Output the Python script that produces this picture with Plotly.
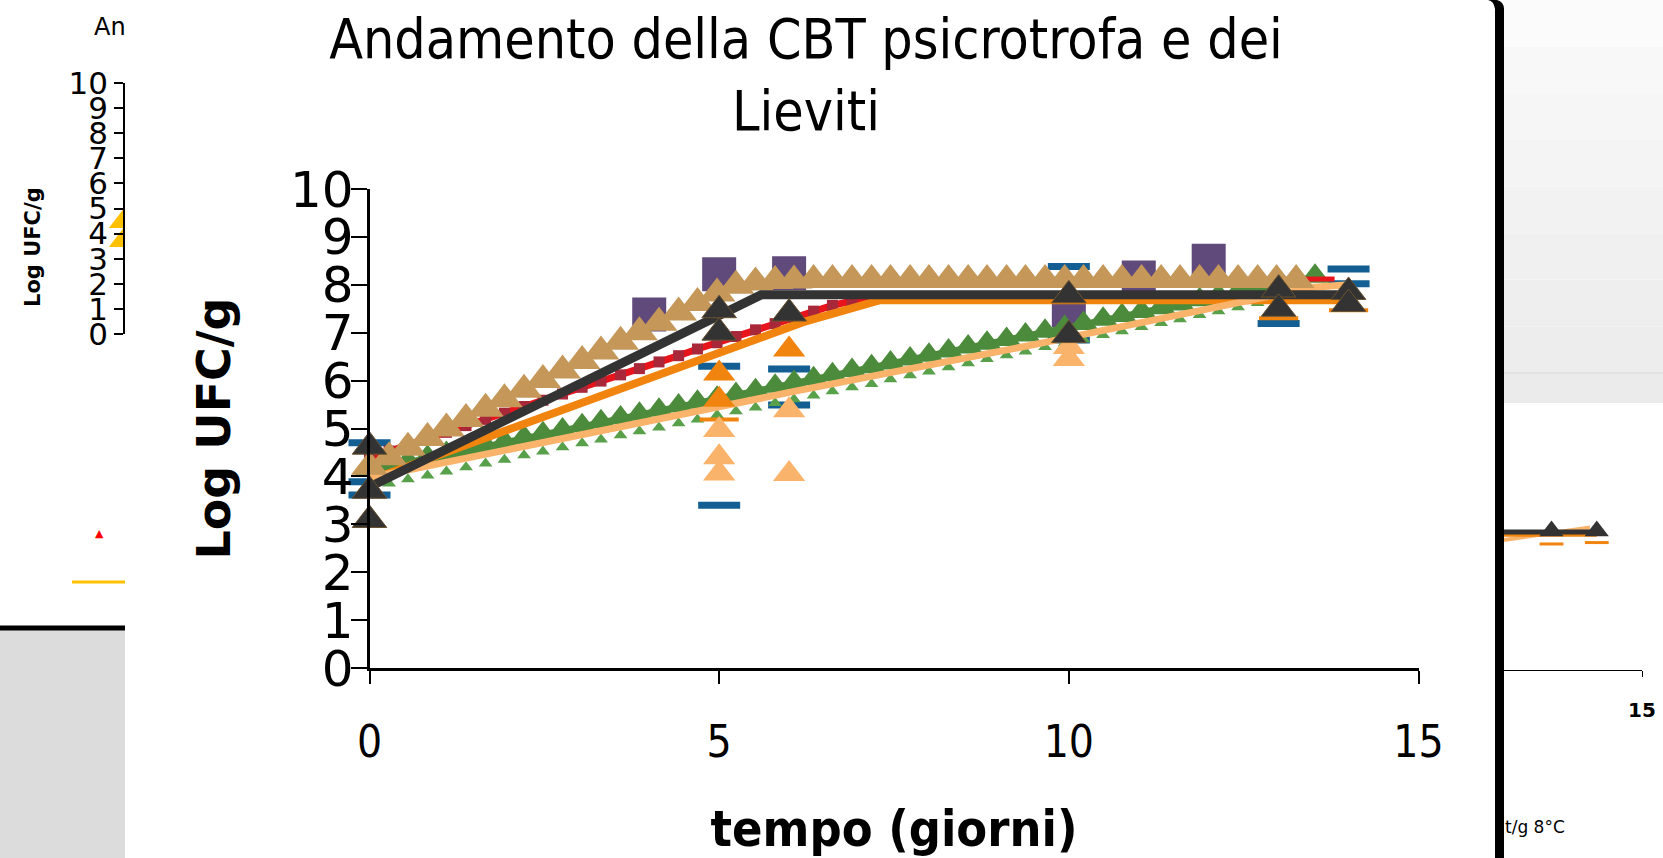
import plotly.graph_objects as go

W, H = 1663, 858

# ---------------- main chart data ----------------
model_days = [0.00, 0.28, 0.55, 0.83, 1.10, 1.38, 1.66, 1.93, 2.21, 2.48, 2.76, 3.04, 3.31,
              3.59, 3.86, 4.14, 4.42, 4.69, 4.97, 5.24, 5.52, 5.80, 6.07, 6.35, 6.62, 6.90,
              7.18, 7.45, 7.73, 8.00, 8.28, 8.56, 8.83, 9.11, 9.38, 9.66, 9.94, 10.21, 10.49,
              10.76, 11.04, 11.32, 11.59, 11.87, 12.14, 12.42, 12.70, 12.97, 13.25, 13.52]

tan_model = [4.20, 4.40, 4.60, 4.80, 5.00, 5.20, 5.41, 5.61, 5.81, 6.01, 6.21, 6.41, 6.61,
             6.81, 7.01, 7.21, 7.42, 7.62, 7.82, 7.98, 8.05, 8.08, 8.09, 8.10, 8.10, 8.10,
             8.10, 8.10, 8.10, 8.10, 8.10, 8.10, 8.10, 8.10, 8.10, 8.10, 8.10, 8.10, 8.10,
             8.10, 8.10, 8.10, 8.10, 8.10, 8.10, 8.10, 8.10, 8.10, 8.10]

red_model = [4.39, 4.53, 4.66, 4.79, 4.92, 5.06, 5.19, 5.32, 5.46, 5.59, 5.72, 5.86, 5.99,
             6.12, 6.25, 6.39, 6.52, 6.66, 6.79, 6.92, 7.06, 7.19, 7.32, 7.45, 7.57, 7.66,
             7.70, 7.72]

green_model = [4.15, 4.23, 4.31, 4.40, 4.48, 4.56, 4.64, 4.72, 4.81, 4.89, 4.97, 5.06, 5.14,
               5.22, 5.30, 5.38, 5.47, 5.55, 5.63, 5.71, 5.79, 5.88, 5.96, 6.04, 6.12, 6.21,
               6.29, 6.37, 6.45, 6.53, 6.62, 6.70, 6.78, 6.86, 6.95, 7.03, 7.11, 7.19, 7.28,
               7.36, 7.44, 7.52, 7.60, 7.69, 7.77, 7.85, 7.93, 8.02, 8.10, 8.18]

green_small_model = [3.77, 3.85, 3.94, 4.02, 4.10, 4.19, 4.27, 4.35, 4.44, 4.52, 4.61, 4.69,
                     4.77, 4.86, 4.94, 5.02, 5.11, 5.19, 5.28, 5.36, 5.44, 5.53, 5.61, 5.69,
                     5.78, 5.86, 5.93, 6.03, 6.11, 6.19, 6.28, 6.36, 6.45, 6.53, 6.61, 6.70,
                     6.78, 6.86, 6.95, 7.03, 7.12, 7.20, 7.28, 7.37, 7.45, 7.53, 7.62, 7.70, 7.78]

fit_black_x = [0, 5.0, 5.6, 14]
fit_black_y = [3.78, 7.40, 7.79, 7.79]
fit_orange_x = [0, 6.2, 7.3, 14]
fit_orange_y = [3.92, 7.22, 7.68, 7.68]
fit_lightorange_x = [0, 6.16, 9.5, 12.8, 13.5, 14]
fit_lightorange_y = [3.97, 5.80, 6.75, 7.72, 7.95, 8.00]

blue_x = [0, 0, 0, 5, 5, 6, 6, 10, 10, 13, 14, 14]
blue_y = [4.70, 3.89, 3.61, 6.30, 3.40, 6.24, 5.49, 8.38, 6.85, 7.19, 8.33, 8.02]

purple_x = [4, 5, 6, 10, 11, 12]
purple_y = [7.38, 8.22, 8.24, 7.47, 8.15, 8.50]

orange_tri_x = [5, 5, 6]
orange_tri_y = [6.15, 5.60, 6.65]
orange_dash_x = [5, 13, 14]
orange_dash_y = [5.19, 7.30, 7.47]

lightorange_tri_x = [5, 5, 5, 6, 6, 10, 10]
lightorange_tri_y = [4.97, 4.40, 4.06, 5.38, 4.05, 6.70, 6.45]

black_tri_x = [0, 0, 0, 5, 5, 6, 10, 10, 13, 13, 14, 14]
black_tri_y = [4.62, 3.70, 3.09, 7.47, 7.00, 7.40, 7.78, 6.95, 7.90, 7.50, 7.85, 7.60]

x_ticks = [0, 5, 10, 15]
y_ticks = list(range(0, 11))

# ---------------- left fragment data ----------------
left_tri_x = [0, 0]
left_tri_y = [4.50, 3.75]

# ---------------- right fragment data ----------------
r_black_x = [11.95, 14]
r_black_y = [7.80, 7.80]
r_orange_x = [11.95, 14]
r_orange_y = [7.62, 7.62]
r_lightorange_x = [11.95, 13.85]
r_lightorange_y = [7.35, 8.05]
r_tri_x = [13, 14]
r_tri_y = [7.85, 7.85]
r_dash_x = [13, 14]
r_dash_y = [7.12, 7.20]

COND = "DejaVu Sans Condensed, Liberation Sans Narrow, DejaVu Sans"
SANS = "DejaVu Sans"

TAN = "#c59758"
RED = "#e8141c"
DRED = "#a8283a"
GREEN = "#4b8b3b"
GREEN2 = "#58a04a"
ORANGE = "#f0840f"
LORANGE = "#f9b36b"
BLACK = "#333333"
PURPLE = "#604a7b"
BLUE = "#135e92"

fig = go.Figure()

n_tan = len(tan_model)
n_red = len(red_model)
n_green = len(green_model)
n_gs = len(green_small_model)


def sc(**kw):
    kw.setdefault("showlegend", False)
    kw.setdefault("cliponaxis", False)
    return go.Scatter(**kw)


# back -> front
fig.add_trace(sc(x=blue_x, y=blue_y, mode="markers",
                 marker=dict(symbol="line-ew", size=30, line=dict(color=BLUE, width=7))))
fig.add_trace(sc(x=purple_x, y=purple_y, mode="markers",
                 marker=dict(symbol="square", size=34, color=PURPLE)))
fig.add_trace(sc(x=model_days[:n_red], y=red_model, mode="lines+markers",
                 line=dict(color=RED, width=7),
                 marker=dict(symbol="square", size=11, color=DRED)))
fig.add_trace(sc(x=model_days[:n_green], y=green_model, mode="lines+markers",
                 line=dict(color=GREEN, width=5),
                 marker=dict(symbol="triangle-up", size=26, color=GREEN)))
fig.add_trace(sc(x=model_days[:n_gs], y=green_small_model, mode="markers",
                 marker=dict(symbol="triangle-up", size=12, color=GREEN2)))
fig.add_trace(sc(x=fit_orange_x, y=fit_orange_y, mode="lines",
                 line=dict(color=ORANGE, width=8)))
fig.add_trace(sc(x=fit_lightorange_x, y=fit_lightorange_y, mode="lines",
                 line=dict(color=LORANGE, width=7)))
fig.add_trace(sc(x=orange_dash_x, y=orange_dash_y, mode="markers",
                 marker=dict(symbol="line-ew", size=28, line=dict(color=ORANGE, width=4))))
fig.add_trace(sc(x=lightorange_tri_x, y=lightorange_tri_y, mode="markers",
                 marker=dict(symbol="triangle-up", size=28, color=LORANGE)))
fig.add_trace(sc(x=orange_tri_x, y=orange_tri_y, mode="markers",
                 marker=dict(symbol="triangle-up", size=28, color=ORANGE)))
fig.add_trace(sc(x=model_days[:n_tan] + [13.80], y=tan_model + [8.12], mode="lines",
                 line=dict(color=RED, width=5)))
fig.add_trace(sc(x=model_days[:n_tan], y=tan_model, mode="markers",
                 marker=dict(symbol="triangle-up", size=32, color=TAN)))
fig.add_trace(sc(x=fit_black_x, y=fit_black_y, mode="lines",
                 line=dict(color=BLACK, width=9)))
fig.add_trace(sc(x=black_tri_x, y=black_tri_y, mode="markers",
                 marker=dict(symbol="triangle-up", size=30, color=BLACK,
                             line=dict(color="#6b5230", width=1))))

# left fragment (clipped at its right edge)
fig.add_trace(go.Scatter(x=left_tri_x, y=left_tri_y, mode="markers", xaxis="x2", yaxis="y2",
                         marker=dict(symbol="triangle-up", size=28, color="#ffc000"),
                         showlegend=False))

# right fragment
fig.add_trace(go.Scatter(x=r_lightorange_x, y=r_lightorange_y, mode="lines", xaxis="x3", yaxis="y3",
                         line=dict(color=LORANGE, width=4), showlegend=False))
fig.add_trace(go.Scatter(x=r_orange_x, y=r_orange_y, mode="lines", xaxis="x3", yaxis="y3",
                         line=dict(color=ORANGE, width=3), showlegend=False))
fig.add_trace(go.Scatter(x=r_dash_x, y=r_dash_y, mode="markers", xaxis="x3", yaxis="y3",
                         marker=dict(symbol="line-ew", size=17, line=dict(color=ORANGE, width=3)),
                         showlegend=False))
fig.add_trace(go.Scatter(x=r_black_x, y=r_black_y, mode="lines", xaxis="x3", yaxis="y3",
                         line=dict(color=BLACK, width=5), showlegend=False))
fig.add_trace(go.Scatter(x=r_tri_x, y=r_tri_y, mode="markers", xaxis="x3", yaxis="y3",
                         marker=dict(symbol="triangle-up", size=21, color=BLACK),
                         showlegend=False))


def fx(px):
    return px / W


def fy(py):
    return 1 - py / H


shapes = [
    # left fragment background pieces
    dict(type="rect", xref="paper", yref="paper", x0=0, x1=fx(125), y0=0, y1=fy(630),
         fillcolor="#dcdcdc", line=dict(width=0), layer="below"),
    dict(type="line", xref="paper", yref="paper", x0=0, x1=fx(125), y0=fy(628), y1=fy(628),
         line=dict(color="black", width=5), layer="below"),
    dict(type="line", xref="paper", yref="paper", x0=fx(72), x1=fx(125), y0=fy(582), y1=fy(582),
         line=dict(color="#ffc000", width=3), layer="below"),
]

# right fragment panel (vertical gradient approximated by bands)
panel_cols = ["#fbfbfb", "#f8f8f8", "#f6f6f6", "#f4f4f4", "#f2f2f2", "#f0f0f0", "#eeeeee", "#ededed"]
band_h = 373 / len(panel_cols)
for i, c in enumerate(panel_cols):
    shapes.append(dict(type="rect", xref="paper", yref="paper", x0=fx(1504), x1=1,
                       y0=fy((i + 1) * band_h), y1=fy(i * band_h),
                       fillcolor=c, line=dict(width=0), layer="below"))
shapes += [
    dict(type="rect", xref="paper", yref="paper", x0=fx(1504), x1=1, y0=fy(403), y1=fy(373),
         fillcolor="#ebebeb", line=dict(width=0), layer="below"),
    dict(type="line", xref="paper", yref="paper", x0=fx(1504), x1=1, y0=fy(373), y1=fy(373),
         line=dict(color="#d9d9d9", width=1), layer="below"),
    dict(type="rect", xref="paper", yref="paper", x0=fx(1495), x1=fx(1504), y0=0, y1=fy(8),
         fillcolor="black", line=dict(width=0), layer="above"),
    dict(type="path", xref="paper", yref="paper",
         path=f"M {fx(1495)},{fy(9)} Q {fx(1494)},{fy(1)} {fx(1488)},{fy(0)} L {fx(1497)},{fy(0)} Q {fx(1504)},{fy(2)} {fx(1504)},{fy(9)} Z",
         fillcolor="black", line=dict(width=0), layer="above"),
]

annotations = [
    dict(text="An", xref="paper", yref="paper", x=fx(92), y=fy(27), xanchor="left", yanchor="middle",
         showarrow=False, font=dict(family=SANS, size=24, color="black")),
    dict(text="<b>Log UFC/g</b>", xref="paper", yref="paper", x=fx(33), y=fy(247), textangle=-90,
         xanchor="center", yanchor="middle", showarrow=False,
         font=dict(family=SANS, size=21, color="black")),
    dict(text="▲", xref="paper", yref="paper", x=fx(99), y=fy(533), xanchor="center", yanchor="middle",
         showarrow=False, font=dict(family=SANS, size=11, color="red")),
    dict(text="t/g 8°C", xref="paper", yref="paper", x=fx(1503), y=fy(827), xanchor="left",
         yanchor="middle", showarrow=False, font=dict(family=SANS, size=17, color="black")),
]

fig.update_layout(
    template="none",
    width=W, height=H,
    margin=dict(l=0, r=0, t=0, b=0),
    paper_bgcolor="white",
    plot_bgcolor="rgba(0,0,0,0)",
    showlegend=False,
    font=dict(family=SANS, color="black"),
    title=dict(text="Andamento della CBT psicrotrofa e dei<br>Lieviti",
               x=fx(806), xanchor="center", y=fy(58), yanchor="top",
               font=dict(family=COND, size=55, color="black")),
    xaxis=dict(domain=[fx(369.5), fx(1418.5)], range=[0, 15], anchor="y",
               tickvals=x_ticks, ticks="outside", ticklen=13, tickwidth=2, tickcolor="black",
               showline=True, linewidth=3, linecolor="black", showgrid=False, zeroline=False,
               tickfont=dict(family=COND, size=44, color="black"), ticklabelstandoff=20,
               title=dict(text="<b>tempo (giorni)</b>", standoff=50,
                          font=dict(family=COND, size=50, color="black")),
               automargin=False),
    yaxis=dict(domain=[1 - 668 / H, 1 - 189 / H], range=[0, 10], anchor="x",
               tickvals=y_ticks, ticks="outside", ticklen=16, tickwidth=2, tickcolor="black",
               showline=True, linewidth=3, linecolor="black", showgrid=False, zeroline=False,
               tickfont=dict(family=SANS, size=50, color="black"), ticklabelstandoff=-13,
               title=dict(text="<b>Log UFC/g</b>", standoff=45,
                          font=dict(family=SANS, size=46, color="black")),
               automargin=False),
    xaxis2=dict(domain=[0, fx(125)], range=[-1, 0], anchor="y2", visible=False),
    yaxis2=dict(domain=[1 - 334 / H, 1 - 83 / H], range=[0, 10], anchor="free", position=fx(124),
                tickvals=y_ticks, ticks="outside", ticklen=9, tickwidth=1.5, tickcolor="black",
                showline=True, linewidth=1.5, linecolor="black", showgrid=False, zeroline=False,
                tickfont=dict(family=SANS, size=31, color="black"),
                automargin=False),
    xaxis3=dict(domain=[fx(1504), fx(1642)], range=[11.95, 15], anchor="y3",
                tickvals=[15], ticks="outside", ticklen=6, tickwidth=1, tickcolor="black",
                showline=True, linewidth=1, linecolor="black", showgrid=False, zeroline=False,
                tickfont=dict(family=SANS, size=20, color="black", weight="bold"),
                ticklabelstandoff=16, automargin=False),
    yaxis3=dict(domain=[1 - 670 / H, 1 - 493 / H], range=[0, 10], anchor="x3", visible=False),
    shapes=shapes,
    annotations=annotations,
)

fig.write_html("out.html")
